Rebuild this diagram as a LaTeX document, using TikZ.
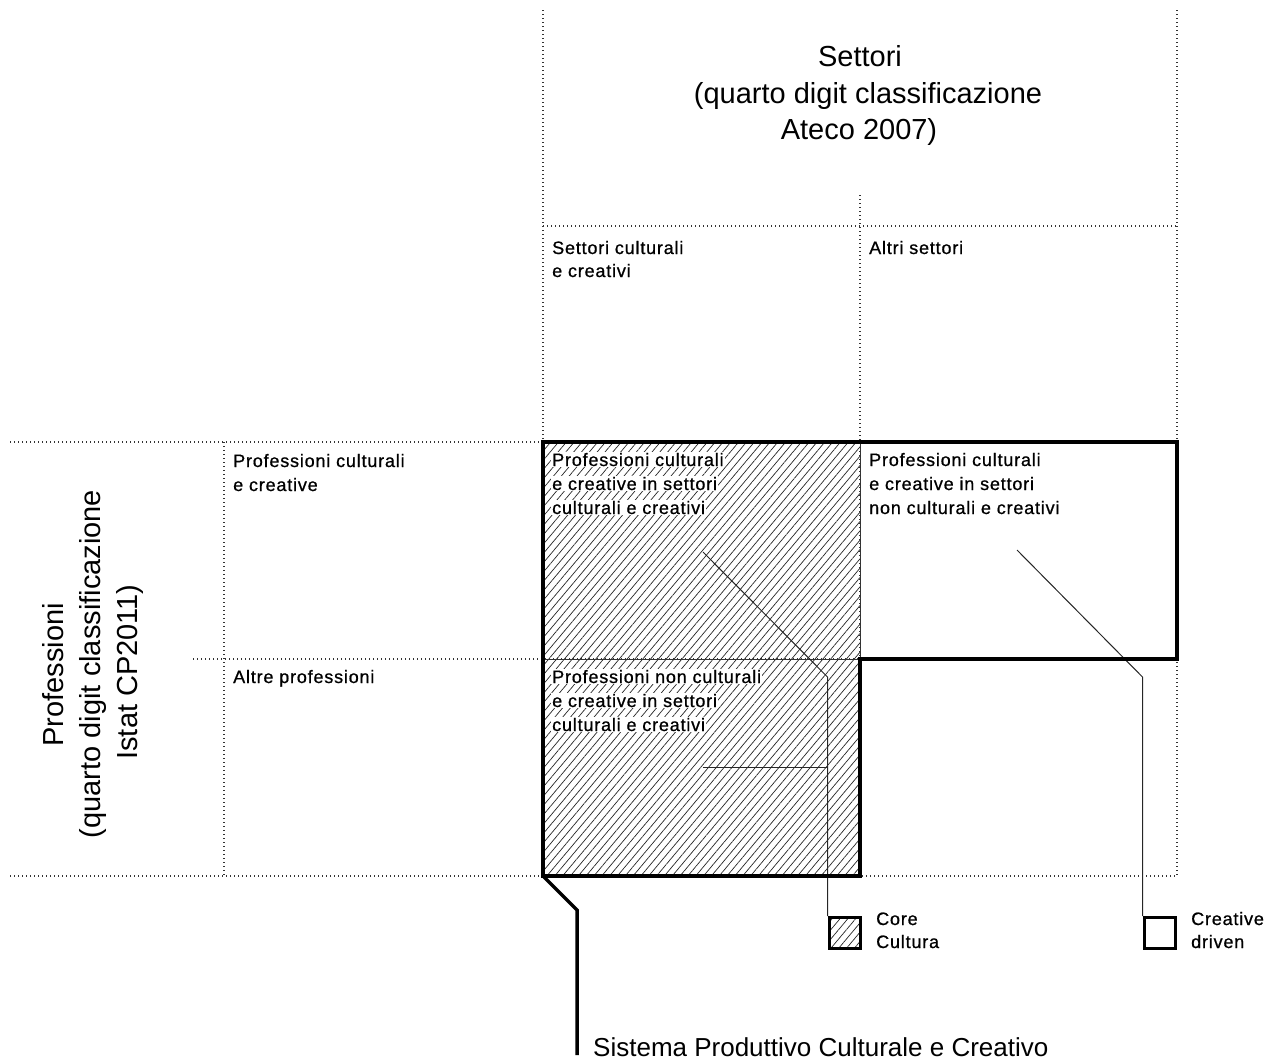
\documentclass[tikz,border=0pt]{standalone}
\usepackage{fontspec}
\setmainfont{Liberation Sans}
\newfontfamily\lblfont[LetterSpace=4.5,FakeBold=0.8]{Liberation Sans}
\usetikzlibrary{patterns.meta}
\tikzset{
  dots/.style={line width=1.1pt, dash pattern=on 1.1pt off 2.9pt, draw=black!80},
  outline/.style={line width=3.5pt, line join=miter},
  thinline/.style={line width=1pt, draw=black!80},
  lbl/.style={font=\lblfont\fontsize{18}{20}\selectfont, anchor=base west, inner sep=0pt},
  lblw/.style={lbl, fill=white, inner sep=1pt},
  big/.style={font=\fontsize{29}{36}\selectfont, anchor=base, inner sep=0pt},
  hatch/.style={pattern={Lines[angle=50,distance=6pt,line width=0.7pt]}, pattern color=black!85},
  leader/.style={line width=1pt, draw=black!85},
}
\begin{document}
\begin{tikzpicture}[x=1pt,y=-1pt]
\useasboundingbox (0,0) rectangle (1269,1061);
% hatched area
\fill[hatch] (543,442) rectangle (860,876);
% dotted grid
\draw[dots] (543,10) -- (543,876);
\draw[dots] (1177,10) -- (1177,876);
\draw[dots] (860,195) -- (860,876);
\draw[dots] (543,226) -- (1177,226);
\draw[dots] (10,442) -- (1177,442);
\draw[dots] (193,659) -- (1177,659);
\draw[dots] (10,876) -- (1177,876);
\draw[dots] (224,442) -- (224,876);
% titles
\node[big] (s1) at (860,66) {Settori};
\node[big] (s2) at (868,103) {(quarto digit classificazione};
\node[big] (s3) at (859,139) {Ateco 2007)};
\node[big, rotate=90] (p1) at (63,675) {Professioni};
\node[big, rotate=90] (p2) at (100,664) {(quarto digit classificazione};
\node[big, rotate=90] (p3) at (137,672) {Istat CP2011)};
\node[big, anchor=base west, font=\fontsize{26}{32}\selectfont] (spcc) at (593,1056) {Sistema Produttivo Culturale e Creativo};
% column / row headers
\node[lbl] (c1a) at (552,254) {Settori culturali};
\node[lbl] (c1b) at (552,277) {e creativi};
\node[lbl] (c2a) at (869,254) {Altri settori};
\node[lbl] (r1a) at (233,467) {Professioni culturali};
\node[lbl] (r1b) at (233,491) {e creative};
\node[lbl] (r2a) at (233,683) {Altre professioni};
% cell labels
\node[lblw] (a1) at (551,466) {Professioni culturali};
\node[lblw] (a2) at (551,490) {e creative in settori};
\node[lblw] (a3) at (551,514) {culturali e creativi};
\node[lbl] (b1) at (869,466) {Professioni culturali};
\node[lbl] (b2) at (869,490) {e creative in settori};
\node[lbl] (b3) at (869,514) {non culturali e creativi};
\node[lblw] (d1) at (551,683) {Professioni non culturali};
\node[lblw] (d2) at (551,707) {e creative in settori};
\node[lblw] (d3) at (551,731) {culturali e creativi};
% inner thin lines
\draw[thinline] (860,442) -- (860,659);
\draw[thinline] (543,659) -- (860,659);
% legend boxes
\node[draw, line width=3.2pt, hatch, minimum width=31pt, minimum height=31pt, inner sep=0pt, anchor=north west] (core) at (828,916) {};
\node[draw, line width=3.2pt, fill=white, minimum width=31pt, minimum height=31pt, inner sep=0pt, anchor=north west] (cd) at (1143,916) {};
\node[lbl] (core1) at (876,925) {Core};
\node[lbl] (core2) at (876,948) {Cultura};
\node[lbl] (cd1) at (1191,925) {Creative};
\node[lbl] (cd2) at (1191,948) {driven};
% leader lines
\coordinate (l1s) at (703,552);
\coordinate (l1b) at (827.5,677);
\coordinate (l1h) at (703,767.5);
\coordinate (l1m) at (827.5,767.5);
\coordinate (l2s) at (1017,550);
\coordinate (l2b) at (1142.5,677);
\draw[leader] (l1s) -- (l1b) -- (l1b |- core.north);
\draw[leader] (l1h) -- (l1m);
\draw[leader] (l2s) -- (l2b) -- (l2b |- cd.north);
% thick outline
\draw[outline] (543,442) -- (1177,442) -- (1177,659) -- (860,659) -- (860,876) -- (543,876) -- cycle;
% SPCC bracket
\coordinate (sp0) at (543,876);
\coordinate (sp1) at (577,910);
\coordinate (sp2) at (577,1055);
\draw[line width=3.5pt, line join=miter] (sp0) -- (sp1) -- (sp2);
\end{tikzpicture}
\end{document}
